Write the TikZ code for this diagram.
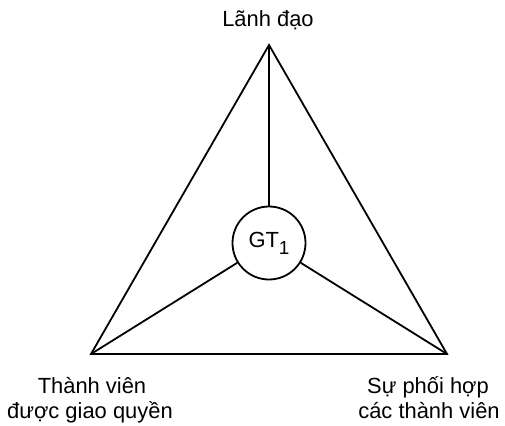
\documentclass[tikz,border=0pt]{standalone}
\usepackage{fontspec}
\setmainfont{Liberation Sans}
\begin{document}
\begin{tikzpicture}[x=1bp,y=-1bp,
  edge/.style={line width=1.8bp, line join=miter},
  lbl/.style={anchor=base, inner sep=0pt, font=\fontsize{22}{25}\selectfont},
  hub/.style={circle, draw, line width=1.8bp, minimum size=73bp, inner sep=0pt, font=\fontsize{22}{25}\selectfont}]
\useasboundingbox (0,0) rectangle (505,425);
\coordinate (top) at (269,45);
\coordinate (bl) at (91,354);
\coordinate (br) at (447,354);
\node[hub] (gt) at (269,243) {GT\raisebox{-7bp}{\fontsize{19}{20}\selectfont 1}};
\draw[edge] (top) -- (bl) -- (br) -- cycle;
\draw[edge] (top) -- (gt);
\draw[edge] (bl) -- (gt);
\draw[edge] (br) -- (gt);
\node[lbl] (l1) at (268,26) {Lãnh đạo};
\node[lbl] (l2a) at (92,393) {Thành viên};
\node[lbl] (l2b) at (90,418) {được giao quyền};
\node[lbl] (l3a) at (428,393) {Sự phối hợp};
\node[lbl] (l3b) at (429,418) {các thành viên};
\end{tikzpicture}
\end{document}
